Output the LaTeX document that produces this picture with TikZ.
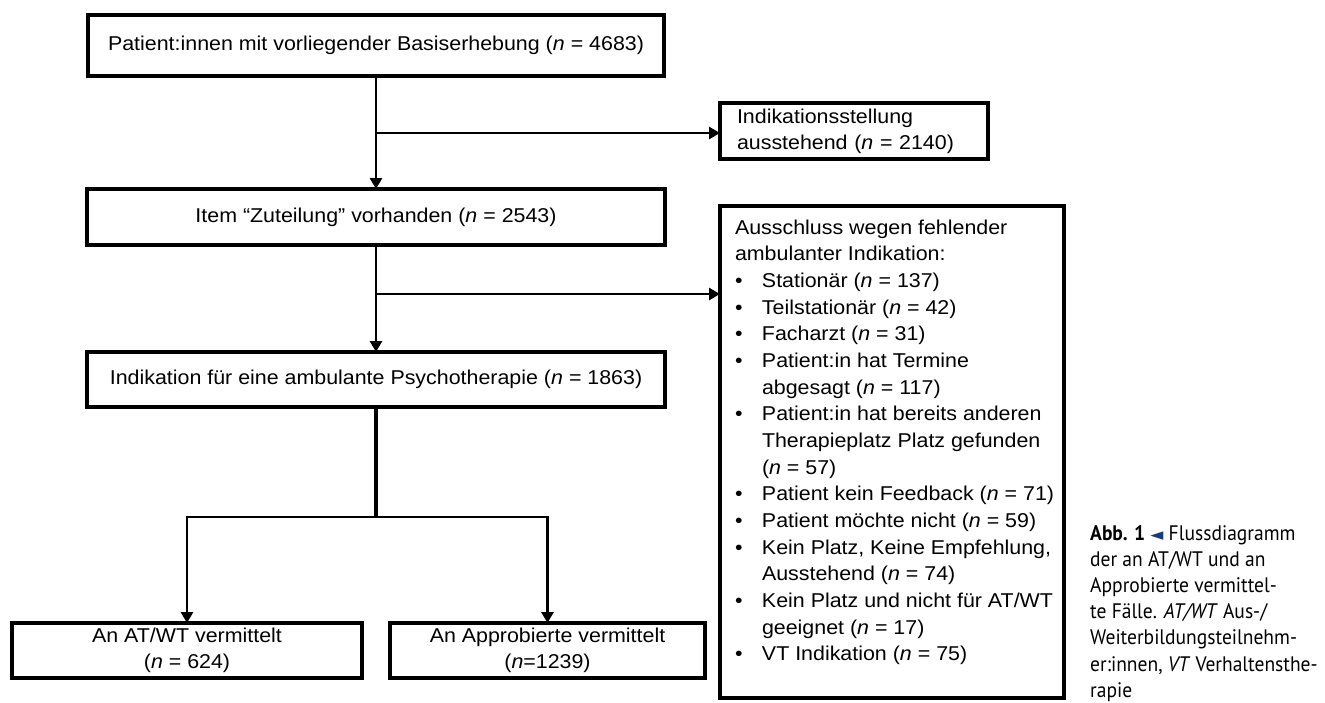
\documentclass[tikz,border=0pt]{standalone}
\usepackage{fontspec}
\setmainfont{Liberation Sans}[FakeStretch=1.07]
\newfontfamily\capfont{PT Sans}[FakeStretch=0.93]
\newfontfamily\arrowglyphfont{DejaVu Sans}
\usetikzlibrary{arrows.meta}
\definecolor{capblue}{RGB}{20,60,120}
\newcommand{\nitalic}{\textit{n}}
\newcommand{\bitem}[1]{\par\noindent\hangindent=27pt\hangafter=1\makebox[27pt][l]{\textbullet}#1}
\begin{document}
\begin{tikzpicture}[x=1pt,y=-1pt,
  box/.style={draw, line width=3.2pt, inner sep=0pt, outer sep=0pt, align=center,
              font=\fontsize{20}{26}\selectfont},
  conn/.style={line width=2.8pt},
  arr/.style={line width=2.8pt, -{Triangle[length=11pt,width=12pt]}},
]
\useasboundingbox (0,0) rectangle (1325,702);

% main column
\node[box, minimum width=576pt, minimum height=61pt] (base) at (376,45.5)
  {Patient:innen mit vorliegender Basiserhebung (\nitalic{} = 4683)};
\node[box, minimum width=578pt, minimum height=56pt] (item) at (376,217)
  {Item “Zuteilung” vorhanden (\nitalic{} = 2543)};
\node[box, minimum width=578pt, minimum height=55pt] (indik) at (376,379.5)
  {Indikation für eine ambulante Psychotherapie (\nitalic{} = 1863)};
\node[box, minimum width=350pt, minimum height=55pt] (atwt) at (187,650.5)
  {An AT/WT vermittelt\\(\nitalic{} = 624)};
\node[box, minimum width=315pt, minimum height=55pt] (appr) at (547.5,650.5)
  {An Approbierte vermittelt\\(\nitalic=1239)};

% side boxes
\node[box, align=left, inner xsep=17pt, text width=234pt, minimum height=56pt] (pend) at (854,131)
  {Indikationsstellung\\ausstehend (\nitalic{} = 2140)};
\node[box, anchor=north west, align=left] (excl) at (720,206)
  {\parbox[t][492pt][t]{344pt}{\fontsize{20}{26.67}\selectfont
   \leftskip=15pt \rightskip=0pt plus 1fil \parindent=0pt
   \rule{0pt}{28pt}Ausschluss wegen fehlender\\ambulanter Indikation:
   \bitem{Stationär (\nitalic{} = 137)}
   \bitem{Teilstationär (\nitalic{} = 42)}
   \bitem{Facharzt (\nitalic{} = 31)}
   \bitem{Patient:in hat Termine\\abgesagt (\nitalic{} = 117)}
   \bitem{Patient:in hat bereits anderen\\Therapieplatz Platz gefunden\\(\nitalic{} = 57)}
   \bitem{Patient kein Feedback (\nitalic{} = 71)}
   \bitem{Patient möchte nicht (\nitalic{} = 59)}
   \bitem{Kein Platz, Keine Empfehlung,\\Ausstehend (\nitalic{} = 74)}
   \bitem{Kein Platz und nicht für AT/WT\\geeignet (\nitalic{} = 17)}
   \bitem{VT Indikation (\nitalic{} = 75)}\par}};

% junction coordinates
\coordinate (j1) at (base.south |- 0,133);
\coordinate (j2) at (item.south |- 0,294);
\coordinate (j3) at (indik.south |- 0,517);

% connectors
\draw[arr] (base.south) -- (item.north);
\draw[arr] (j1) -- (j1 -| pend.west);
\draw[arr] (item.south) -- (indik.north);
\draw[arr] (j2) -- (j2 -| excl.west);
\draw[conn, line width=3.4pt] (indik.south) -- (j3);
\draw[arr] (j3) -| (atwt.north);
\draw[arr] (j3) -| (appr.north);

% caption
\node[anchor=base west, inner sep=0pt] (caption) at (1090,540)
  {\parbox[t]{300pt}{\capfont\fontsize{21}{26.2}\selectfont\raggedright
   \textbf{Abb. 1} {\arrowglyphfont\fontsize{17}{17}\selectfont\textcolor{capblue}{◄}} Flussdiagramm\\
   der an AT/WT und an\\
   Approbierte vermittel-\\
   te Fälle. \textit{AT/WT} Aus-/\\
   Weiterbildungsteilnehm-\\
   er:innen, \textit{VT} Verhaltensthe-\\
   rapie}};
\end{tikzpicture}
\end{document}
